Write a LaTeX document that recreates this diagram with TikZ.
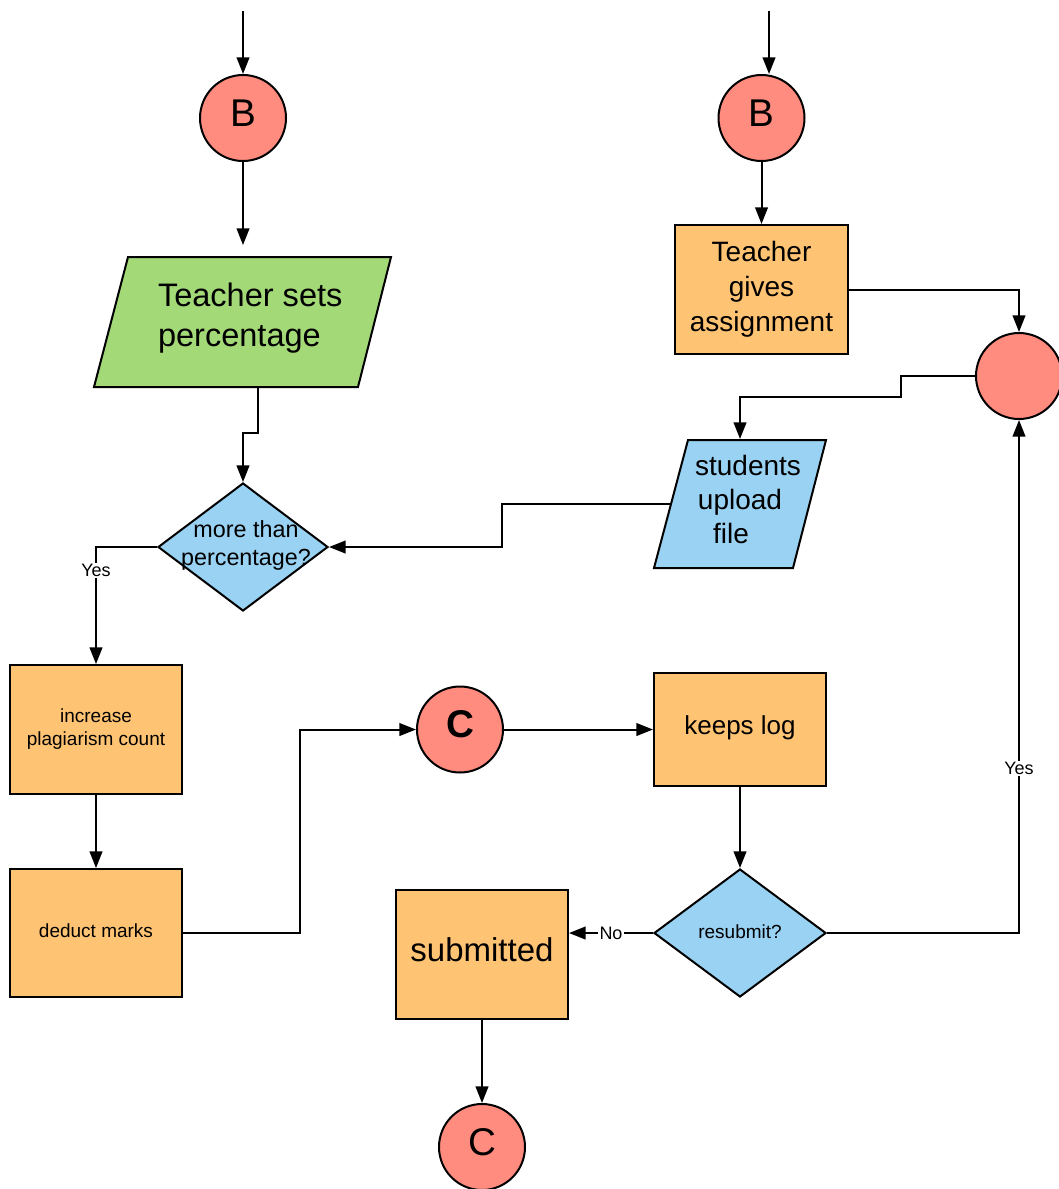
\documentclass[tikz,border=0pt]{standalone}
\usepackage{fontspec}
\setmainfont{Liberation Sans}
\usetikzlibrary{arrows.meta,shapes.geometric}

\definecolor{conncol}{HTML}{FF8C7F}
\definecolor{inputcol}{HTML}{A3D977}
\definecolor{proccol}{HTML}{FFC374}
\definecolor{deccol}{HTML}{99D2F2}

\newcommand\setfs[2]{\fontsize{#1}{#2}\selectfont}

\begin{document}
\begin{tikzpicture}[x=0.75pt,y=-0.75pt,line width=1.5pt,
  arr/.style={-{Triangle[length=12.5pt,width=9.5pt]}},
  conn/.style={circle,draw=black,fill=conncol,minimum size=64.5pt,inner sep=0pt,
    font=\setfs{29}{34},text height=21pt,text depth=9pt},
  proc/.style={rectangle,draw=black,fill=proccol,inner sep=0pt,align=center},
  dec/.style={diamond,draw=black,fill=deccol,inner sep=0pt,align=center},
  inp/.style={draw=black,line join=miter},
  lbl/.style={fill=white,inner sep=1pt,font=\setfs{13.5}{16}}]
\useasboundingbox (0,0) rectangle (1059,1189);

% ---------- left column ----------
\node[conn] (B1) at (243,118) {B};
\draw[inp,fill=inputcol] (128,257) -- (391,257) -- (358,387) -- (94,387) -- cycle;
\node[anchor=west,align=left,inner sep=0pt,font=\setfs{24.4}{30}] (tsp) at (157,318.5)
  {Teacher sets\\percentage};
\coordinate (tspN) at (243,245);
\coordinate (tspS) at (258,387);

\node[dec,minimum width=127.5pt,minimum height=96pt] (mtp) at (243,547) {};
\node[align=center,inner sep=0pt,font=\setfs{17.5}{21}] (mtpt) at (246,545.2)
  {more than\\percentage?};

\node[proc,minimum width=129pt,minimum height=96.75pt,font=\setfs{14.25}{17.25}]
  (inc) at (96,729.5) {increase\\plagiarism count};
\node[proc,minimum width=129pt,minimum height=96pt,font=\setfs{14.25}{17},
  text height=11pt,text depth=5pt] (ded) at (96,933) {deduct marks};

% ---------- middle ----------
\node[conn,font=\setfs{29}{34}\bfseries] (C1) at (460,729.5) {C};
\node[proc,minimum width=129pt,minimum height=84.75pt,font=\setfs{19.5}{23},
  text height=15pt,text depth=7.5pt] (klog) at (740,729.5) {keeps log};
\node[dec,minimum width=129pt,minimum height=96pt,font=\setfs{14.25}{17},
  text height=11pt,text depth=3.5pt] (rsb) at (740,933) {resubmit?};
\node[proc,minimum width=129pt,minimum height=96.75pt,font=\setfs{24.75}{29},
  text height=18pt,text depth=6.8pt] (sub) at (482,954.5) {submitted};
\node[conn] (C2) at (482,1147) {C};

% ---------- right column ----------
\node[conn] (B2) at (761.5,118) {B};
\node[proc,minimum width=129.75pt,minimum height=96.75pt,font=\setfs{21}{26.25}]
  (tga) at (761.5,289.5) {Teacher\\gives\\assignment};
\node[conn] (R) at (1019,376) {};

\draw[inp,fill=deccol] (688,440) -- (826,440) -- (793,568) -- (654,568) -- cycle;
\node[anchor=base,inner sep=0pt,font=\setfs{21}{25}] (sulA) at (748,475) {students};
\node[anchor=base,inner sep=0pt,font=\setfs{21}{25}] (sulB) at (740,509) {upload};
\node[anchor=base,inner sep=0pt,font=\setfs{21}{25}] (sulC) at (731,543) {file};
\coordinate (sulN) at (740,439);
\coordinate (sulW) at (671,504);

% ---------- connectors ----------
\coordinate (inL) at (243,11);
\coordinate (inR) at (769,11);
\draw[arr] (inL) -- (B1);
\draw[arr] (B1) -- (tspN);
\draw[arr] (tspS) -- ++(0,46) -| (mtp.north);
\draw[arr] (mtp.west) -| node[lbl,pos=0.6] {Yes} (inc.north);
\draw[arr] (inc) -- (ded);
\draw[arr] (ded.east) -- ++(117,0) |- (C1.west);
\draw[arr] (C1) -- (klog);
\draw[arr] (klog) -- (rsb);
\draw[arr] (rsb.west) -- node[lbl] {No} (rsb.west -| sub.east);
\draw[arr] (sub) -- (C2);
\draw[arr] (rsb.east) -| node[lbl,pos=0.66] {Yes} (R.south);

\draw[arr] (inR) -- (inR |- B2.north);
\draw[arr] (B2) -- (tga);
\draw[arr] (tga.east) -| (R.north);
\draw[arr] (R.west) -- ++(-74,0) -- ++(0,21) -| (sulN);
\draw[arr] (sulW) -- ++(-169,0) |- (mtp.east);
\end{tikzpicture}
\end{document}
